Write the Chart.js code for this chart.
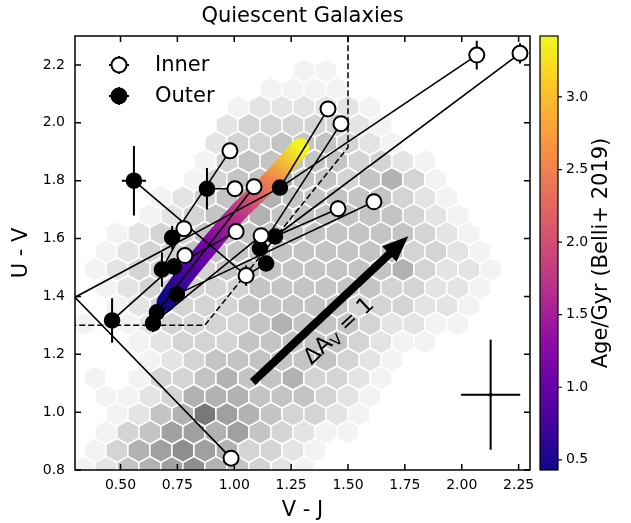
<!DOCTYPE html>
<html lang="en">
<head>
<meta charset="UTF-8">
<title>Quiescent Galaxies</title>
<script src="https://cdn.jsdelivr.net/npm/chart.js"></script>
<style>
  html, body { margin: 0; padding: 0; background: #fff; }
</style>
</head>
<body>
<canvas id="myChart" width="631" height="523"></canvas>
<script>
// --- data ---
const xTicks = [0.5, 0.75, 1.0, 1.25, 1.5, 1.75, 2.0, 2.25];
const yTicks = [0.8, 1.0, 1.2, 1.4, 1.6, 1.8, 2.0, 2.2];
const cbTicks = [0.5, 1.0, 1.5, 2.0, 2.5, 3.0];

// inner (open) points
const innerX = [2.066, 2.256, 1.412, 1.469, 0.981, 1.003, 1.087, 0.779, 0.783, 1.008, 1.118, 1.052, 1.456, 1.614, 0.986, 0.20];
const innerY = [2.234, 2.240, 2.048, 1.997, 1.903, 1.772, 1.779, 1.634, 1.541, 1.624, 1.610, 1.472, 1.703, 1.727, 0.841, 1.355];
const innerXErr = [0.01, 0.01, 0.01, 0.01, 0.01, 0.01, 0.01, 0.01, 0.01, 0.01, 0.01, 0.01, 0.01, 0.01, 0.01, 0];
const innerYErr = [0.05, 0.035, 0.01, 0.01, 0.01, 0.01, 0.01, 0.01, 0.01, 0.01, 0.01, 0.035, 0.03, 0.01, 0.025, 0];

// outer (filled) points
const outerX = [0.559, 0.880, 1.201, 0.727, 0.682, 0.735, 0.748, 0.660, 0.643, 0.463, 1.113, 1.140, 1.179, 0.20];
const outerY = [1.800, 1.772, 1.776, 1.603, 1.493, 1.503, 1.407, 1.345, 1.307, 1.317, 1.566, 1.514, 1.607, 1.478];
const outerXErr = [0.053, 0.03, 0.01, 0.01, 0.01, 0.01, 0.01, 0.01, 0.01, 0.01, 0.01, 0.01, 0.01, 0];
const outerYErr = [0.12, 0.072, 0.01, 0.04, 0.06, 0.03, 0.02, 0.03, 0.03, 0.077, 0.01, 0.01, 0.01, 0];

// which outer point is joined to which inner point
const links = [[0, 11], [1, 5], [2, 0], [2, 2], [2, 15], [3, 4], [4, 7], [5, 9], [6, 13], [7, 6],
               [8, 10], [9, 8], [10, 3], [11, 11], [12, 1], [12, 12], [13, 14]];

// stellar population track, age in Gyr
const trackX = [0.70, 0.78, 0.89, 1.01, 1.16, 1.29];
const trackY = [1.38, 1.47, 1.575, 1.685, 1.80, 1.915];
const trackAge = [0.45, 0.75, 1.15, 1.7, 2.5, 3.4];

// quiescent selection box
const boxX = [0.2, 0.87, 1.5, 1.5];
const boxY = [1.3, 1.3, 1.915, 2.4];

// reddening vector and its label
const arrowFrom = [1.081, 1.104];
const arrowTo = [1.765, 1.608];
const arrowLabelAt = [1.455, 1.285];

// typical error bar
const typX = 2.127, typY = 1.06, typXErr = 0.13, typYErr = 0.19;

// hexbin background: row centres in U-V, first column centre in V-J, shade level per cell
const hexDX = 0.0967;
const hexRowY = [0.806, 0.868, 0.931, 0.993, 1.055, 1.118, 1.180, 1.243, 1.305, 1.368, 1.430, 1.493,
                 1.555, 1.618, 1.680, 1.742, 1.805, 1.867, 1.930, 1.992, 2.055, 2.117, 2.180];
const hexRowX0 = [0.339, 0.291, 0.339, 0.291, 0.339, 0.291, 0.339, 0.291, 0.339, 0.291, 0.339, 0.291,
                  0.339, 0.291, 0.339, 0.291, 0.339, 0.291, 0.339, 0.291, 0.339, 0.291, 0.339];
const hexLevels = [
  [1, 2, 4, 5, 6, 7, 5, 4, 3, 2, 1],
  [0, 1, 3, 5, 6, 7, 6, 5, 3, 3, 2, 1],
  [0, 1, 3, 4, 6, 6, 5, 6, 4, 3, 2, 1, 1],
  [0, 0, 1, 2, 4, 5, 8, 6, 5, 4, 3, 3, 2, 1],
  [0, 1, 1, 2, 3, 5, 5, 5, 4, 4, 4, 3, 2, 1],
  [0, 1, 0, 1, 3, 3, 4, 5, 4, 4, 5, 3, 3, 2, 1],
  [0, 0, 0, 1, 2, 3, 4, 4, 4, 4, 4, 4, 3, 2, 1],
  [0, 0, 0, 1, 2, 3, 3, 3, 4, 4, 4, 4, 4, 3, 2, 1, 1],
  [1, 0, 1, 2, 3, 3, 3, 3, 4, 5, 4, 4, 4, 3, 2, 2, 1, 1],
  [0, 0, 1, 2, 3, 3, 3, 3, 4, 4, 4, 4, 4, 3, 3, 3, 2, 2, 1],
  [0, 1, 2, 3, 3, 3, 3, 3, 4, 4, 4, 4, 4, 4, 3, 3, 2, 2, 1],
  [0, 1, 2, 3, 3, 3, 3, 4, 4, 4, 4, 4, 4, 4, 4, 5, 3, 2, 2, 1],
  [0, 1, 2, 3, 3, 4, 4, 4, 4, 4, 4, 4, 4, 4, 4, 3, 3, 2, 1],
  [0, 0, 1, 2, 3, 3, 4, 4, 4, 4, 4, 4, 4, 4, 4, 4, 3, 2, 1],
  [0, 0, 0, 1, 2, 3, 4, 4, 5, 4, 4, 4, 4, 4, 4, 3, 2, 1],
  [0, 0, 0, 0, 1, 2, 3, 4, 5, 5, 4, 4, 4, 4, 4, 3, 2, 1],
  [0, 0, 0, 0, 0, 1, 3, 4, 4, 5, 4, 4, 3, 4, 5, 3, 1],
  [0, 0, 0, 0, 0, 0, 1, 3, 4, 4, 4, 4, 4, 3, 3, 2, 1],
  [0, 0, 0, 0, 0, 0, 2, 3, 3, 4, 4, 4, 3, 2, 1],
  [0, 0, 0, 0, 0, 0, 0, 2, 3, 3, 3, 3, 3, 2, 1],
  [0, 0, 0, 0, 0, 0, 0, 1, 2, 2, 2, 2, 2, 1],
  [0, 0, 0, 0, 0, 0, 0, 0, 0, 1, 1, 1, 1],
  [0, 0, 0, 0, 0, 0, 0, 0, 0, 0, 1, 1]
];

// --- helpers ---
const PLASMA = ['#0d0887', '#41049d', '#6a00a8', '#8f0da4', '#b12a90', '#cc4778',
                '#e16462', '#f2844b', '#fca636', '#fcce25', '#f0f921'];
const GREYS = [255, 243, 228, 212, 196, 178, 160, 142, 120, 102];
const CB_MIN = 0.43, CB_MAX = 3.42;
function hexToRgb(h) { return [1, 3, 5].map(i => parseInt(h.substr(i, 2), 16)); }
function plasma(t) {
  t = Math.max(0, Math.min(1, t)) * (PLASMA.length - 1);
  const i = Math.min(Math.floor(t), PLASMA.length - 2), f = t - i;
  const a = hexToRgb(PLASMA[i]), b = hexToRgb(PLASMA[i + 1]);
  return 'rgb(' + a.map((v, k) => Math.round(v + (b[k] - v) * f)).join(',') + ')';
}
function grey(level) {
  const g = GREYS[level];
  return 'rgb(' + g + ',' + g + ',' + g + ')';
}

const innerPts = innerX.map((x, i) => ({x: x, y: innerY[i]}));
const outerPts = outerX.map((x, i) => ({x: x, y: outerY[i]}));
const linkPts = [];
links.forEach(([o, n]) => {
  linkPts.push({x: outerX[o], y: outerY[o]}, {x: innerX[n], y: innerY[n]}, {x: NaN, y: null});
});

const hexbin = {
  id: 'hexbin',
  beforeDatasetsDraw(chart) {
    const {ctx, chartArea: a, scales: {x, y}} = chart;
    const sy = (hexRowY[1] - hexRowY[0]) * 2;
    ctx.save();
    ctx.beginPath(); ctx.rect(a.left, a.top, a.right - a.left, a.bottom - a.top); ctx.clip();
    hexLevels.forEach((row, r) => {
      row.forEach((lv, c) => {
        if (lv <= 0) return;
        const cx = hexRowX0[r] + c * hexDX, cy = hexRowY[r];
        const v = [[0.5, -0.5], [0.5, 0.5], [0, 1], [-0.5, 0.5], [-0.5, -0.5], [0, -1]];
        ctx.beginPath();
        v.forEach(([px, py], k) => {
          const X = x.getPixelForValue(cx + px * hexDX), Y = y.getPixelForValue(cy + py * sy / 3);
          k ? ctx.lineTo(X, Y) : ctx.moveTo(X, Y);
        });
        ctx.closePath();
        ctx.fillStyle = grey(lv);
        ctx.fill();
        ctx.strokeStyle = '#fff';
        ctx.lineWidth = 1.5;
        ctx.stroke();
      });
    });
    ctx.restore();
  }
};

// error bars drawn just before the marker datasets
const errorBars = {
  id: 'errorBars',
  beforeDatasetDraw(chart, args) {
    const ds = chart.data.datasets[args.index];
    if (!ds.errX) return;
    const {ctx, chartArea: a, scales: {x, y}} = chart;
    ctx.save();
    ctx.beginPath(); ctx.rect(a.left, a.top, a.right - a.left, a.bottom - a.top); ctx.clip();
    ctx.strokeStyle = '#000'; ctx.lineWidth = 2;
    ds.data.forEach((p, i) => {
      const px = x.getPixelForValue(p.x), py = y.getPixelForValue(p.y);
      ctx.beginPath();
      ctx.moveTo(x.getPixelForValue(p.x - ds.errX[i]), py);
      ctx.lineTo(x.getPixelForValue(p.x + ds.errX[i]), py);
      ctx.moveTo(px, y.getPixelForValue(p.y - ds.errY[i]));
      ctx.lineTo(px, y.getPixelForValue(p.y + ds.errY[i]));
      ctx.stroke();
    });
    ctx.restore();
  }
};

const decorations = {
  id: 'decorations',
  afterDatasetsDraw(chart) {
    const {ctx, chartArea: a, scales: {x, y, cb}} = chart;
    ctx.save();
    // reddening arrow
    const x0 = x.getPixelForValue(arrowFrom[0]), y0 = y.getPixelForValue(arrowFrom[1]);
    const x1 = x.getPixelForValue(arrowTo[0]), y1 = y.getPixelForValue(arrowTo[1]);
    const ang = Math.atan2(y1 - y0, x1 - x0), len = Math.hypot(x1 - x0, y1 - y0);
    const hw = 4, headW = 10.5, headL = 26;
    ctx.translate(x0, y0); ctx.rotate(ang);
    ctx.beginPath();
    ctx.moveTo(0, -hw); ctx.lineTo(len - headL, -hw); ctx.lineTo(len - headL, -headW);
    ctx.lineTo(len, 0); ctx.lineTo(len - headL, headW); ctx.lineTo(len - headL, hw); ctx.lineTo(0, hw);
    ctx.closePath(); ctx.fillStyle = '#000'; ctx.fill();
    ctx.setTransform(1, 0, 0, 1, 0, 0);
    // label along the arrow
    const tx = x.getPixelForValue(arrowLabelAt[0]), ty = y.getPixelForValue(arrowLabelAt[1]);
    ctx.translate(tx, ty); ctx.rotate(ang);
    ctx.fillStyle = '#000'; ctx.textBaseline = 'alphabetic';
    const big = '22px "DejaVu Sans"', small = '15px "DejaVu Sans"';
    ctx.font = big;
    const w1 = ctx.measureText('\u0394A').width, wEq = ctx.measureText('=').width, wOne = ctx.measureText('1').width;
    ctx.font = small;
    const w2 = ctx.measureText('V').width;
    const gap = 7;
    let sx = -(w1 + w2 + gap + wEq + gap + wOne) / 2;
    ctx.font = big; ctx.fillText('\u0394A', sx, 8); sx += w1;
    ctx.font = small; ctx.fillText('V', sx, 12); sx += w2 + gap;
    ctx.font = big; ctx.fillText('=', sx, 8); sx += wEq + gap;
    ctx.fillText('1', sx, 8);
    ctx.setTransform(1, 0, 0, 1, 0, 0);
    // typical error cross
    ctx.strokeStyle = '#000'; ctx.lineWidth = 2;
    const cx = x.getPixelForValue(typX), cy = y.getPixelForValue(typY);
    ctx.beginPath();
    ctx.moveTo(x.getPixelForValue(typX - typXErr), cy); ctx.lineTo(x.getPixelForValue(typX + typXErr), cy);
    ctx.moveTo(cx, y.getPixelForValue(typY - typYErr)); ctx.lineTo(cx, y.getPixelForValue(typY + typYErr));
    ctx.stroke();
    ctx.beginPath(); ctx.arc(cx, cy, 2, 0, Math.PI * 2); ctx.fill();
    // frame with inward ticks
    ctx.lineWidth = 1.5;
    ctx.strokeRect(a.left, a.top, a.right - a.left, a.bottom - a.top);
    ctx.beginPath();
    xTicks.forEach(v => {
      const p = x.getPixelForValue(v);
      ctx.moveTo(p, a.bottom); ctx.lineTo(p, a.bottom - 6);
      ctx.moveTo(p, a.top); ctx.lineTo(p, a.top + 6);
    });
    yTicks.forEach(v => {
      const p = y.getPixelForValue(v);
      ctx.moveTo(a.left, p); ctx.lineTo(a.left + 6, p);
      ctx.moveTo(a.right, p); ctx.lineTo(a.right - 6, p);
    });
    ctx.stroke();
    // colour bar
    const bl = a.right + 10, bw = 18;
    const g = ctx.createLinearGradient(0, a.bottom, 0, a.top);
    for (let i = 0; i <= 20; i++) g.addColorStop(i / 20, plasma(i / 20));
    ctx.fillStyle = g;
    ctx.fillRect(bl, a.top, bw, a.bottom - a.top);
    ctx.lineWidth = 1.2;
    ctx.strokeRect(bl, a.top, bw, a.bottom - a.top);
    ctx.beginPath();
    cbTicks.forEach(v => {
      const p = cb.getPixelForValue(v);
      ctx.moveTo(bl + bw, p); ctx.lineTo(bl + bw + 4, p);
    });
    ctx.stroke();
    ctx.translate(602, (a.top + a.bottom) / 2); ctx.rotate(-Math.PI / 2);
    ctx.fillStyle = '#000'; ctx.font = '21px "DejaVu Sans"';
    ctx.textAlign = 'center'; ctx.textBaseline = 'middle';
    ctx.fillText('Age/Gyr (Belli+ 2019)', 0, 0);
    ctx.restore();
  },
  afterDraw(chart) {
    // legend
    const {ctx} = chart;
    ctx.save();
    [['Inner', '#fff', 65], ['Outer', '#000', 96]].forEach(([lab, fill, yy]) => {
      ctx.strokeStyle = '#000'; ctx.lineWidth = 2;
      ctx.beginPath();
      ctx.moveTo(109, yy); ctx.lineTo(129, yy);
      ctx.moveTo(119, yy - 9); ctx.lineTo(119, yy + 9);
      ctx.stroke();
      ctx.beginPath(); ctx.arc(119, yy, 7.5, 0, Math.PI * 2);
      ctx.fillStyle = fill; ctx.fill(); ctx.lineWidth = 2; ctx.stroke();
      ctx.fillStyle = '#000'; ctx.font = '21px "DejaVu Sans"'; ctx.textBaseline = 'middle';
      ctx.fillText(lab, 155, yy + 1);
    });
    ctx.restore();
  }
};

const trackGradient = (context) => {
  const {chart} = context;
  if (!chart.chartArea) return '#7e03a8';
  const {x, y} = chart.scales;
  const n = trackX.length - 1;
  const xa = x.getPixelForValue(trackX[0]), ya = y.getPixelForValue(trackY[0]);
  const xb = x.getPixelForValue(trackX[n]), yb = y.getPixelForValue(trackY[n]);
  const g = chart.ctx.createLinearGradient(xa, ya, xb, yb);
  const L2 = (xb - xa) ** 2 + (yb - ya) ** 2;
  trackX.forEach((tx, i) => {
    const px = x.getPixelForValue(tx), py = y.getPixelForValue(trackY[i]);
    const f = Math.max(0, Math.min(1, ((px - xa) * (xb - xa) + (py - ya) * (yb - ya)) / L2));
    g.addColorStop(f, plasma((trackAge[i] - CB_MIN) / (CB_MAX - CB_MIN)));
  });
  return g;
};

const noPad = s => { s.paddingTop = 0; s.paddingBottom = 0; s.paddingLeft = 0; s.paddingRight = 0; };

new Chart(document.getElementById('myChart'), {
  type: 'scatter',
  data: {
    datasets: [
      {label: 'Outer', data: outerPts, errX: outerXErr, errY: outerYErr, order: 1,
       pointRadius: 7.5, pointBackgroundColor: '#000', pointBorderColor: '#000', pointBorderWidth: 1.5},
      {label: 'Inner', data: innerPts, errX: innerXErr, errY: innerYErr, order: 0,
       pointRadius: 7.5, pointBackgroundColor: '#fff', pointBorderColor: '#000', pointBorderWidth: 2},
      {label: 'links', data: linkPts, showLine: true, spanGaps: false, order: 2,
       borderColor: '#000', borderWidth: 1.6, pointRadius: 0},
      {label: 'selection', data: boxX.map((v, i) => ({x: v, y: boxY[i]})), showLine: true, order: 3,
       borderColor: '#000', borderWidth: 1.5, borderDash: [6, 3], pointRadius: 0},
      {label: 'track', data: trackX.map((v, i) => ({x: v, y: trackY[i]})), showLine: true, order: 4,
       borderColor: trackGradient, borderWidth: 19, borderCapStyle: 'round', borderJoinStyle: 'round',
       tension: 0.3, pointRadius: 0}
    ]
  },
  options: {
    responsive: false,
    animation: false,
    layout: {padding: 0},
    plugins: {
      legend: {display: false},
      tooltip: {enabled: false},
      title: {display: true, text: 'Quiescent Galaxies', fullSize: false, color: '#000',
              font: {family: 'DejaVu Sans', size: 21, weight: 'normal', lineHeight: 1.2},
              padding: {top: 4, bottom: 6.8}}
    },
    scales: {
      x: {type: 'linear', min: 0.3, max: 2.3,
          afterBuildTicks: s => { s.ticks = xTicks.map(v => ({value: v})); },
          afterFit: s => { s.height = 53; noPad(s); },
          grid: {display: false, drawTicks: false}, border: {display: false},
          ticks: {color: '#000', padding: 7, maxRotation: 0, font: {family: 'DejaVu Sans', size: 14},
                  callback: v => v.toFixed(2)},
          title: {display: true, text: 'V - J', color: '#000', padding: {top: 0, bottom: 0},
                  font: {family: 'DejaVu Sans', size: 21, lineHeight: 1.2}}},
      y: {type: 'linear', min: 0.8, max: 2.3,
          afterBuildTicks: s => { s.ticks = yTicks.map(v => ({value: v})); },
          afterFit: s => { s.width = 75; noPad(s); },
          grid: {display: false, drawTicks: false}, border: {display: false},
          ticks: {color: '#000', padding: 10, font: {family: 'DejaVu Sans', size: 14},
                  callback: v => v.toFixed(1)},
          title: {display: true, text: 'U - V', color: '#000', padding: {top: 9, bottom: 0},
                  font: {family: 'DejaVu Sans', size: 21, lineHeight: 1.2}}},
      cb: {type: 'linear', position: 'right', min: CB_MIN, max: CB_MAX,
           afterBuildTicks: s => { s.ticks = cbTicks.map(v => ({value: v})); },
           afterFit: s => { s.width = 101; noPad(s); },
           grid: {display: false, drawTicks: false}, border: {display: false},
           ticks: {color: '#000', padding: 36, font: {family: 'DejaVu Sans', size: 14},
                   callback: v => v.toFixed(1)}}
    }
  },
  plugins: [hexbin, errorBars, decorations]
});
</script>
</body>
</html>
